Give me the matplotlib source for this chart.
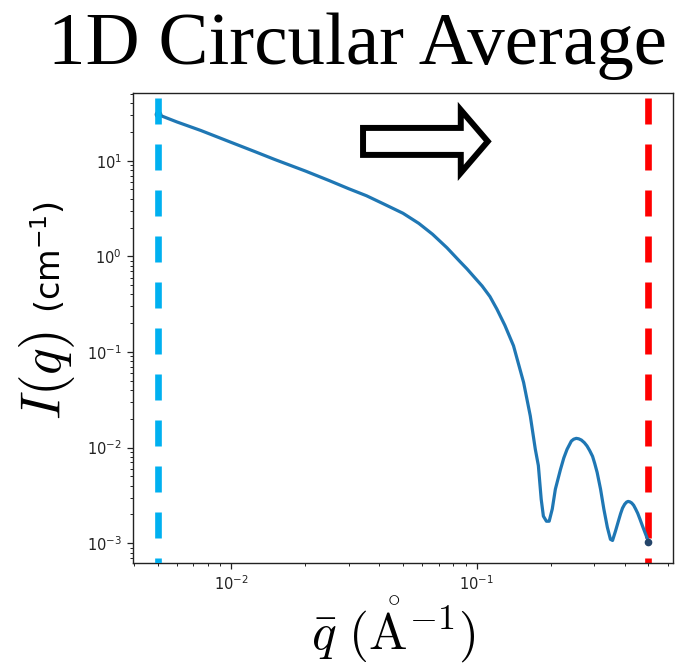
import matplotlib
matplotlib.use("Agg")
import matplotlib.pyplot as plt
from matplotlib.patches import FancyArrow

# circularly averaged scattering intensity
q = [0.005, 0.006, 0.0075, 0.010, 0.0125, 0.015, 0.020, 0.025, 0.030,
     0.0355, 0.042, 0.050, 0.058, 0.066, 0.0755, 0.085, 0.0911, 0.0968,
     0.105, 0.113, 0.1207, 0.130, 0.141, 0.155, 0.165, 0.173, 0.178,
     0.1828, 0.1866, 0.192, 0.197, 0.2028, 0.2088, 0.219, 0.226, 0.233,
     0.2425, 0.248, 0.254, 0.260, 0.2665, 0.274, 0.281, 0.288, 0.296,
     0.302, 0.309, 0.319, 0.329, 0.340, 0.350, 0.357, 0.367, 0.378,
     0.385, 0.392, 0.400, 0.407, 0.413, 0.420, 0.427, 0.435, 0.443,
     0.452, 0.462, 0.473, 0.486, 0.500]
intensity = [30.5, 25.4, 20.7, 15.5, 12.4, 10.3, 7.8, 6.2, 5.1,
             4.3, 3.5, 2.82, 2.21, 1.70, 1.23, 0.89, 0.74, 0.62,
             0.49, 0.38, 0.28, 0.19, 0.116, 0.048, 0.0215, 0.0096, 0.0065,
             0.00289, 0.00192, 0.0017, 0.0017, 0.00228, 0.00368, 0.0059, 0.0078, 0.0096,
             0.0117, 0.01225, 0.0125, 0.01236, 0.0120, 0.01127, 0.0104, 0.00933, 0.0081,
             0.00684, 0.0055, 0.00368, 0.00228, 0.00147, 0.00110, 0.00107, 0.00134, 0.00174,
             0.00204, 0.00233, 0.00256, 0.00269, 0.00274, 0.00271, 0.00264, 0.0025, 0.00229,
             0.00206, 0.00178, 0.00151, 0.00126, 0.00104]

q_low = 0.005
q_high = 0.5

fig = plt.figure(figsize=(6.86, 6.63), dpi=100)
ax = fig.add_axes([133 / 686, 1 - 563 / 663, 540 / 686, 470 / 663])

lw_dash = 4.8
ax.axvline(q_high, color="#ff0000", lw=lw_dash, ls=(3.15, (3.9, 3.0)), zorder=1)
ax.plot(q, intensity, color="#1f77b4", lw=2.3, zorder=2)
ax.plot([q[0], q[-1]], [intensity[0], intensity[-1]], ls="none", marker="o",
        ms=4.5, color="#24456a", zorder=2.5)
ax.axvline(q_low, color="#00b0f0", lw=lw_dash, ls=(3.15, (3.9, 3.0)), zorder=3)

ax.set_xscale("log")
ax.set_yscale("log")

for side in ax.spines.values():
    side.set_linewidth(1.0)
    side.set_color("#222222")
ax.tick_params(which="major", length=4.5, width=0.9, labelsize=10.5,
               colors="#222222")
ax.tick_params(which="minor", length=2.5, width=0.7, colors="#222222")
ax.tick_params(axis="x", which="major", pad=3.5)

# direction arrow
arrow = FancyArrow(0.426, 0.897, 0.231, 0.0, width=0.0574, head_width=0.134,
                   head_length=0.050, length_includes_head=True,
                   transform=ax.transAxes, facecolor="white", edgecolor="black",
                   lw=4.3, joinstyle="miter", clip_on=False, zorder=4)
ax.add_patch(arrow)

fig.text(358 / 686, 1 - 64 / 663, "1D Circular Average", ha="center",
         va="baseline", fontsize=54, family="Liberation Serif")

fig.text(393 / 686, 1 - 649 / 663, r"$\bar{q}\ (\mathring{\mathrm{A}}^{-1})$",
         ha="center", va="baseline", fontsize=37, math_fontfamily="cm")

fig.text(61 / 686, 1 - 420 / 663, r"$I(q)$", rotation=90,
         rotation_mode="anchor", ha="left", va="baseline", fontsize=40,
         math_fontfamily="cm")
fig.text(61 / 686, 1 - 313 / 663, r"(cm$^{-1}$)", rotation=90,
         rotation_mode="anchor", ha="left", va="baseline", fontsize=24,
         family="DejaVu Sans")

fig.savefig("out.png", dpi=100)
